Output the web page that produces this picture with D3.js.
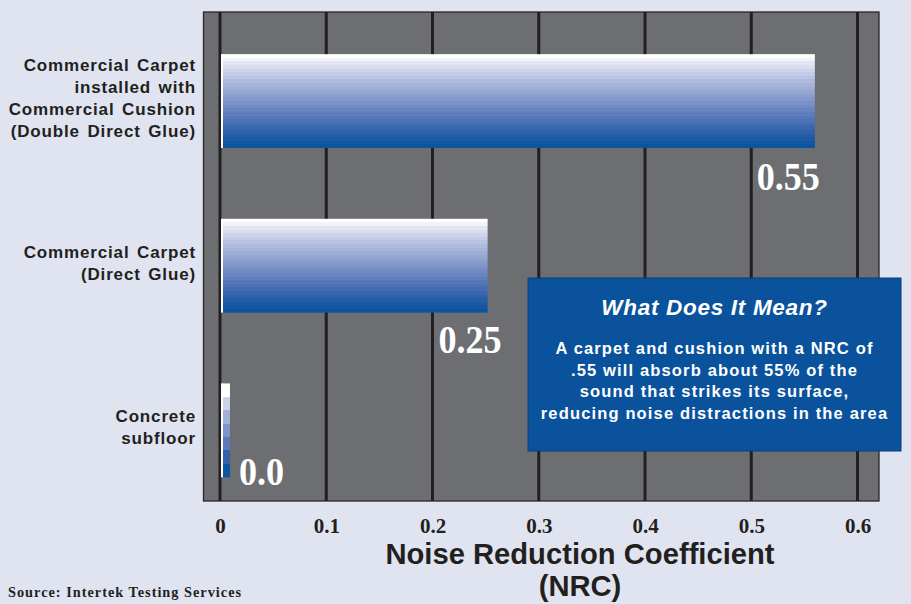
<!DOCTYPE html>
<html>
<head>
<meta charset="utf-8">
<script src="https://cdn.jsdelivr.net/npm/d3@7"></script>
<style>
html,body{margin:0;padding:0;background:#dfe4f0;}
svg{display:block;}
</style>
</head>
<body>
<svg id="chart" width="911" height="604"></svg>
<script>
const categories = [
  ["Commercial Carpet","installed with","Commercial Cushion","(Double Direct Glue)"],
  ["Commercial Carpet","(Direct Glue)"],
  ["Concrete","subfloor"]
];
const values = [0.558, 0.25, 0.0075];
const valueLabels = ["0.55", "0.25", "0.0"];
const tickValues = [0, 0.1, 0.2, 0.3, 0.4, 0.5, 0.6];
const tickLabels = ["0", "0.1", "0.2", "0.3", "0.4", "0.5", "0.6"];
const axisTitle = ["Noise Reduction Coefficient", "(NRC)"];
const boxTitle = "What Does It Mean?";
const boxLines = ["A carpet and cushion with a NRC of", ".55 will absorb about 55% of the", "sound that strikes its surface,", "reducing noise distractions in the area"];
const source = "Source: Intertek Testing Services";

const svg = d3.select("#chart");
const W = 911, H = 604;
const plot = {left: 203.5, top: 12, right: 879, bottom: 501};

svg.append("rect").attr("width", W).attr("height", H).attr("fill", "#dfe4f0");

const x = d3.scaleLinear().domain([0, 0.6]).range([220, 857.5]);
const y = d3.scaleBand().domain(d3.range(categories.length))
  .range([plot.top, plot.bottom]).paddingInner(0.43).paddingOuter(0.2).align(0.64);

// gradients
const defs = svg.append("defs");
const colorAt = d3.scaleLinear()
  .domain([0, 0.08, 0.3, 0.5, 0.7, 0.85, 1])
  .range(["#ffffff", "#e2e6f3", "#aab7dc", "#7f94c9", "#5275b7", "#2b60a8", "#0a54a0"]);
function steppedGradient(id, steps) {
  const g = defs.append("linearGradient").attr("id", id)
    .attr("x1", 0).attr("y1", 0).attr("x2", 0).attr("y2", 1);
  for (let i = 0; i < steps; i++) {
    const c = colorAt(i / (steps - 1));
    g.append("stop").attr("offset", i / steps).attr("stop-color", c);
    g.append("stop").attr("offset", (i + 1) / steps).attr("stop-color", c);
  }
}
steppedGradient("gBig", 26);
steppedGradient("gSmall", 7);

// plot background
svg.append("rect")
  .attr("x", plot.left).attr("y", plot.top)
  .attr("width", plot.right - plot.left).attr("height", plot.bottom - plot.top)
  .attr("fill", "#6d6e72").attr("stroke", "#2a2627").attr("stroke-width", 1.3);

// grid lines
svg.append("g").selectAll("line").data(tickValues).join("line")
  .attr("x1", d => x(d)).attr("x2", d => x(d))
  .attr("y1", plot.top).attr("y2", plot.bottom)
  .attr("stroke", "#231f20").attr("stroke-width", 3);

// bars
const bars = svg.append("g");
bars.selectAll("rect.bar").data(values).join("rect")
  .attr("class", "bar")
  .attr("x", x(0) + 2)
  .attr("y", (d, i) => y(i))
  .attr("width", d => x(d) - x(0))
  .attr("height", y.bandwidth())
  .attr("fill", (d, i) => i === 2 ? "url(#gSmall)" : "url(#gBig)");
bars.selectAll("rect.edge").data(values).join("rect")
  .attr("class", "edge")
  .attr("x", x(0) + 1)
  .attr("y", (d, i) => y(i))
  .attr("width", 2)
  .attr("height", y.bandwidth())
  .attr("fill", "#ffffff");

// value labels
const labelDx = [7, 16, 0];
const labelAnchor = ["end", "end", "start"];
const labelDy = [42, 40, 8];
const lx = (d, i) => i === 2 ? x(d) + 11 : x(d) + labelDx[i];
const ly = (d, i) => y(i) + y.bandwidth() + labelDy[i];
svg.append("g").selectAll("text").data(values).join("text")
  .attr("x", lx)
  .attr("y", ly)
  .attr("text-anchor", (d, i) => labelAnchor[i])
  .attr("font-family", "'Liberation Serif', 'Times New Roman', serif")
  .attr("font-weight", "bold").attr("font-size", 38)
  .attr("fill", "#ffffff")
  .attr("transform", (d, i) => {
    const tx = lx(d, i), ty = ly(d, i);
    return `translate(${tx},${ty}) scale(0.95,1.05) translate(${-tx},${-ty})`;
  })
  .text((d, i) => valueLabels[i]);

// category labels
const catG = svg.append("g");
categories.forEach((lines, i) => {
  const cy = y(i) + y.bandwidth() / 2;
  const lh = 22;
  const startY = cy - (lines.length - 1) * lh / 2 + 3;
  const t = catG.append("text")
    .attr("text-anchor", "end")
    .attr("font-family", "'Liberation Sans', Arial, sans-serif")
    .attr("font-weight", "bold").attr("font-size", 17)
    .attr("letter-spacing", 0.85).attr("word-spacing", 2)
    .attr("fill", "#231f20");
  lines.forEach((ln, j) => {
    t.append("tspan").attr("x", 196).attr("y", startY + j * lh).text(ln);
  });
});

// x axis
const xAxis = d3.axisBottom(x).tickValues(tickValues)
  .tickFormat((d, i) => tickLabels[i]).tickSize(0).tickPadding(0);
const ax = svg.append("g").attr("transform", `translate(0,${plot.bottom})`).call(xAxis);
ax.select(".domain").remove();
ax.selectAll("text")
  .attr("dy", null).attr("y", 32)
  .attr("font-family", "'Liberation Serif', 'Times New Roman', serif")
  .attr("font-weight", "bold").attr("font-size", 21)
  .attr("fill", "#231f20");

// axis title
svg.append("g").selectAll("text").data(axisTitle).join("text")
  .attr("x", 580).attr("y", (d, i) => 564 + i * 32)
  .attr("text-anchor", "middle")
  .attr("font-family", "'Liberation Sans', Arial, sans-serif")
  .attr("font-weight", "bold").attr("font-size", 29.2)
  .attr("fill", "#231f20")
  .text(d => d);

// source
svg.append("text")
  .attr("x", 8).attr("y", 597)
  .attr("font-family", "'Liberation Serif', 'Times New Roman', serif")
  .attr("font-weight", "bold").attr("font-size", 14.3)
  .attr("letter-spacing", 1.0)
  .attr("fill", "#231f20")
  .text(source);

// info box
const box = {x: 528, y: 278, w: 373, h: 173};
svg.append("rect")
  .attr("x", box.x).attr("y", box.y).attr("width", box.w).attr("height", box.h)
  .attr("fill", "#0b529d").attr("stroke", "#0a3d78").attr("stroke-width", 1);
svg.append("text")
  .attr("x", box.x + box.w / 2).attr("y", 315)
  .attr("text-anchor", "middle")
  .attr("font-family", "'Liberation Sans', Arial, sans-serif")
  .attr("font-weight", "bold").attr("font-style", "italic").attr("font-size", 22.5)
  .attr("letter-spacing", 0.7)
  .attr("fill", "#ffffff").text(boxTitle);
svg.append("g").selectAll("text").data(boxLines).join("text")
  .attr("x", box.x + box.w / 2).attr("y", (d, i) => 354 + i * 21.5)
  .attr("text-anchor", "middle")
  .attr("font-family", "'Liberation Sans', Arial, sans-serif")
  .attr("font-weight", "bold").attr("font-size", 16.5)
  .attr("letter-spacing", 1.15)
  .attr("fill", "#ffffff").text(d => d);
</script>
</body>
</html>
